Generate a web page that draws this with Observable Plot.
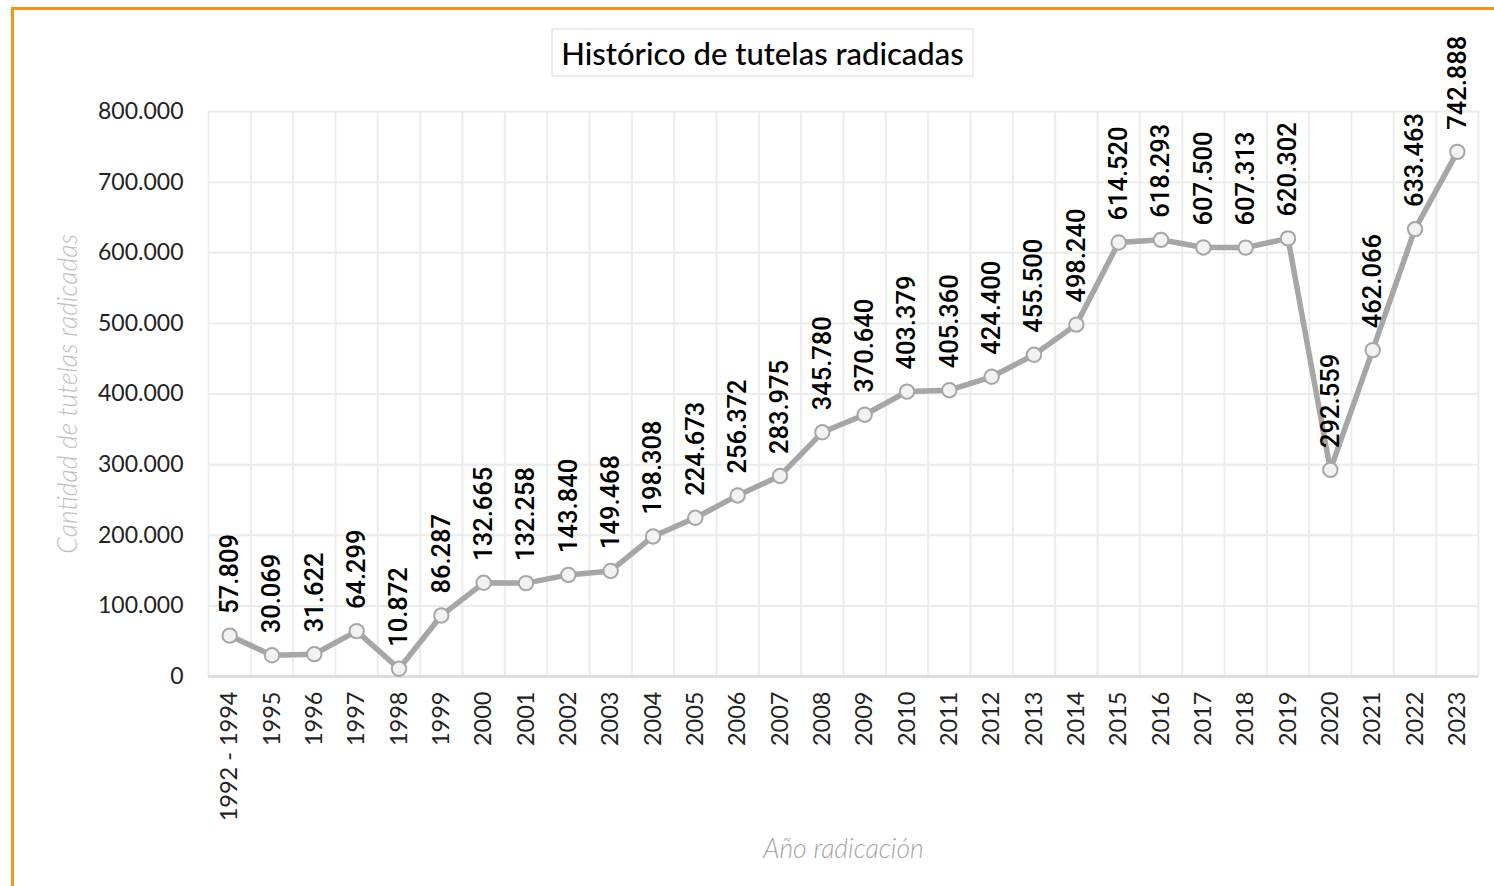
<!DOCTYPE html>
<html>
<head>
<meta charset="utf-8">
<script src="https://cdn.jsdelivr.net/npm/d3@7"></script>
<script src="https://cdn.jsdelivr.net/npm/@observablehq/plot@0.6"></script>
<style>
  html, body { margin: 0; padding: 0; background: #fff; overflow: hidden; width: 1494px; height: 886px; }
  #frame { position: absolute; left: 11px; top: 7px; width: 3000px; height: 3000px; border: 3px solid #f0961e; box-sizing: border-box; }
  #chart { position: absolute; left: 0; top: 0; }
  #title { position: absolute; left: 551px; top: 28px; width: 423px; height: 49px; box-sizing: border-box;
           border: 2px solid #ececec; font-family: Lato, sans-serif; font-size: 31px; font-weight: 500; color: #000;
           display: flex; align-items: center; justify-content: center; background: #fff; white-space: nowrap; }
</style>
</head>
<body>
<div id="frame"></div>
<div id="chart"></div>
<div id="title">Histórico de tutelas radicadas</div>
<script>
const categories = ["1992 - 1994","1995","1996","1997","1998","1999","2000","2001","2002","2003","2004","2005","2006","2007","2008","2009","2010","2011","2012","2013","2014","2015","2016","2017","2018","2019","2020","2021","2022","2023"];
const values = [57809,30069,31622,64299,10872,86287,132665,132258,143840,149468,198308,224673,256372,283975,345780,370640,403379,405360,424400,455500,498240,614520,618293,607500,607313,620302,292559,462066,633463,742888];
const yTicks = [0,100000,200000,300000,400000,500000,600000,700000,800000];
const yTitle = "Cantidad de tutelas radicadas";
const xTitle = "Año radicación";

const fmt = d3.formatLocale({decimal: ",", thousands: ".", grouping: [3], currency: ["$", ""]}).format(",");
const idx = categories.map((_, i) => i);
const data = categories.map((c, i) => ({i, c, v: values[i]}));
const edges = d3.range(categories.length + 1).map(i => i - 0.5);

const chart = Plot.plot({
  width: 1494, height: 886,
  marginLeft: 208, marginRight: 16, marginTop: 111, marginBottom: 210,
  style: {fontFamily: "Lato, sans-serif", background: "transparent", color: "#222", overflow: "visible"},
  x: {type: "linear", domain: [-0.5, categories.length - 0.5]},
  y: {domain: [0, 800000]},
  marks: [
    Plot.ruleY(yTicks, {stroke: "#ececec", strokeWidth: 2}),
    Plot.ruleX(edges, {stroke: "#ececec", strokeWidth: 2}),
    Plot.ruleY([0], {stroke: "#d9d9d9", strokeWidth: 2.5}),
    Plot.axisY({ticks: yTicks, tickFormat: fmt, tickSize: 0, tickPadding: 25, fontSize: 23, label: null}),
    Plot.axisX({ticks: idx, tickFormat: i => categories[i], tickSize: 0, tickPadding: 15, tickRotate: -90, fontSize: 23.5, label: null}),
    Plot.line(data, {x: "i", y: "v", stroke: "#a6a6a6", strokeWidth: 5.5}),
    Plot.dot(data, {x: "i", y: "v", r: 7.2, fill: "#f2f2f2", stroke: "#a6a6a6", strokeWidth: 2}),
    Plot.text(data, {x: "i", y: "v", text: d => fmt(d.v), rotate: -90, textAnchor: "start", dy: -22,
      fontSize: 25.5, fontWeight: 500, fontFamily: "Roboto, sans-serif", fill: "#000"}),
    Plot.text([yTitle], {frameAnchor: "left", textAnchor: "middle", dx: -140, rotate: -90, fontSize: 26.5, fontStyle: "italic",
      fontWeight: 300, fill: "#bfbfbf", text: d => d}),
    Plot.text([xTitle], {frameAnchor: "bottom", textAnchor: "middle", dy: 181, fontSize: 26.5, fontStyle: "italic",
      fontWeight: 300, fill: "#a6a6a6", text: d => d})
  ]
});
document.getElementById("chart").appendChild(chart);
</script>
</body>
</html>
